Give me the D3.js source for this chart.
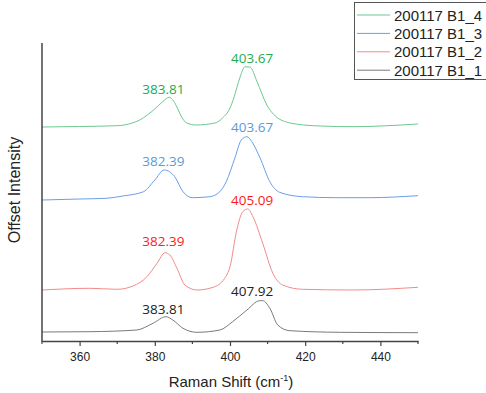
<!DOCTYPE html>
<html>
<head>
<meta charset="utf-8">
<script src="https://cdn.jsdelivr.net/npm/d3@7"></script>
<style>
  body { margin: 0; background: #fff; }
  text { font-family: "Liberation Sans", Arial, sans-serif; }
</style>
</head>
<body>
<div id="chart"></div>
<script>
// spectra (offset intensity in arbitrary units)
var seriesNames = ["200117 B1_4", "200117 B1_3", "200117 B1_2", "200117 B1_1"];

var shiftB1_4 = [350, 360, 370, 374, 376, 378, 380, 382, 383.8, 385, 386, 387, 388.5, 391, 396, 398, 400, 401, 402.6, 404, 405.3, 407.2, 409.8, 412.7, 415, 418, 424, 433, 442, 450];
var intB1_4   = [214, 214.5, 215.3, 218, 221, 226, 232, 239, 243.7, 240, 233, 225, 218, 216, 218, 223, 233, 243, 263, 274.3, 274, 259.3, 236, 223, 219, 216.7, 215, 214.3, 215.3, 217];

var shiftB1_3 = [350, 360, 367, 371.5, 377, 380, 382.5, 385.3, 387.5, 390, 394.6, 397.3, 399, 401.3, 403, 404.5, 405.8, 408, 410.6, 413.2, 419.3, 428.4, 437, 450];
var intB1_3   = [141, 142, 142.7, 145, 149.3, 161, 171, 164.3, 149.3, 143.3, 144.3, 149.3, 159.3, 183, 201, 204.3, 199.3, 183, 159.3, 148.7, 144.3, 143.3, 143.3, 145.3];

var shiftB1_2 = [350, 362.8, 370, 374.2, 377.9, 380.6, 382.7, 384, 385.9, 388, 391.2, 395.5, 398.6, 400, 401.8, 403.4, 404.7, 406.1, 408.7, 411.4, 414, 419.3, 432.6, 450];
var intB1_2   = [51, 52.7, 51.7, 55, 64.3, 77.7, 88.3, 86, 72.7, 56, 51, 53.7, 62.7, 74.3, 111, 129.3, 132, 124.3, 97.7, 67.7, 56, 51.7, 51, 53.7];

var shiftB1_1 = [350, 362.8, 375.2, 379.5, 383, 384.8, 387.5, 391.2, 397.3, 400.7, 404.5, 407.9, 408.7, 410.6, 412.7, 415.9, 429.2, 450];
var intB1_1   = [9, 9.3, 11, 17.7, 24.3, 21, 12.7, 8.7, 11, 19.3, 31, 40.3, 40.3, 32.7, 16, 10.3, 8.7, 8.3];

// peak annotations: text, anchor shift, anchor intensity
var peakTextB1_4 = ["383.81", "403.67"];
var peakTextB1_3 = ["382.39", "403.67"];
var peakTextB1_2 = ["382.39", "405.09"];
var peakTextB1_1 = ["383.81", "407.92"];
var peakShift = [382.3, 405.9];
var peakIntB1_4 = [247, 278];
var peakIntB1_3 = [175, 209];
var peakIntB1_2 = [95, 136];
var peakIntB1_1 = [27, 45];

var xTicks = [360, 380, 400, 420, 440];
var xMinorTicks = [350, 370, 390, 410, 430, 450];

var lineColors = ["#6cc890", "#6b9ee8", "#f48a8a", "#7a7a7a"];
var labelColors = ["#1aad53", "#5b9bd5", "#ff1a1a", "#222222"];

var width = 486;
var height = 393;

var svg = d3.select("#chart").
    append("svg").
    attr("width", width).
    attr("height", height);

var xScale = d3.scaleLinear().domain([350, 450]).range([42, 418]);
var yScale = d3.scaleLinear().domain([0, 298]).range([341, 43]);

var series = [
    { name: seriesNames[0], xs: shiftB1_4, ys: intB1_4, peaks: peakTextB1_4, peakY: peakIntB1_4 },
    { name: seriesNames[1], xs: shiftB1_3, ys: intB1_3, peaks: peakTextB1_3, peakY: peakIntB1_3 },
    { name: seriesNames[2], xs: shiftB1_2, ys: intB1_2, peaks: peakTextB1_2, peakY: peakIntB1_2 },
    { name: seriesNames[3], xs: shiftB1_1, ys: intB1_1, peaks: peakTextB1_1, peakY: peakIntB1_1 }
];

svg.append("clipPath").attr("id", "plot").
    append("rect").
    attr("x", xScale(350)).attr("y", yScale(298)).
    attr("width", xScale(450) - xScale(350)).
    attr("height", yScale(0) - yScale(298));

var line = d3.line().
    x(function (d) { return xScale(d[0]); }).
    y(function (d) { return yScale(d[1]); }).
    curve(d3.curveMonotoneX);

svg.append("g").attr("clip-path", "url(#plot)").
    selectAll("path").
    data(series).
    enter().
    append("path").
    attr("fill", "none").
    attr("stroke", function (d, i) { return lineColors[i]; }).
    attr("stroke-width", 1).
    attr("d", function (d) {
        return line(d.xs.map(function (v, i) { return [v, d.ys[i]]; }));
    });

// peak labels
series.forEach(function (s, si) {
    svg.append("g").selectAll("text").
        data(s.peaks).
        enter().
        append("text").
        attr("x", function (d, i) { return xScale(peakShift[i]); }).
        attr("y", function (d, i) { return yScale(s.peakY[i]); }).
        attr("text-anchor", "middle").
        style("font-family", "'Open Sans', sans-serif").
        style("font-size", "13.5px").
        attr("fill", labelColors[si]).
        text(function (d) { return d; });
});

// axes
var xAxis = d3.axisBottom(xScale).
    tickValues(xTicks).
    tickSize(5).
    tickSizeOuter(0).
    tickPadding(6);

var gx = svg.append("g").
    attr("transform", "translate(0," + yScale(0) + ")").
    call(xAxis);
gx.select(".domain").attr("stroke", "#444").attr("stroke-width", 1.5);
gx.selectAll(".tick line").attr("stroke", "#444").attr("stroke-width", 1.2);
gx.selectAll(".tick text").
    style("font-family", "'Liberation Sans', Arial, sans-serif").
    style("font-size", "12px").
    attr("fill", "#222");

svg.append("g").selectAll("line").
    data(xMinorTicks).
    enter().
    append("line").
    attr("x1", function (d) { return xScale(d); }).
    attr("x2", function (d) { return xScale(d); }).
    attr("y1", yScale(0)).
    attr("y2", yScale(0) + 3).
    attr("stroke", "#444").
    attr("stroke-width", 1.2);

svg.append("line").
    attr("x1", xScale(350)).attr("x2", xScale(350)).
    attr("y1", yScale(0) + 0.75).attr("y2", yScale(298)).
    attr("stroke", "#444").attr("stroke-width", 1.5);

// axis titles
var xTitle = svg.append("text").
    attr("x", 231).
    attr("y", 387).
    attr("text-anchor", "middle").
    style("font-size", "15px").
    attr("fill", "#222");
xTitle.append("tspan").text("Raman Shift (cm");
xTitle.append("tspan").attr("dy", -6).style("font-size", "9px").text("-1");
xTitle.append("tspan").attr("dy", 6).text(")");

svg.append("text").
    attr("transform", "translate(20,190) rotate(-90)").
    attr("text-anchor", "middle").
    style("font-size", "16px").
    attr("fill", "#222").
    text("Offset Intensity");

// legend
var legend = svg.append("g");
legend.append("rect").
    attr("x", 354.5).attr("y", 2.5).
    attr("width", 140).attr("height", 77).
    attr("fill", "#fff").
    attr("stroke", "#555").
    attr("stroke-width", 1);

var rows = legend.selectAll("g.row").
    data(seriesNames).
    enter().
    append("g").
    attr("class", "row").
    attr("transform", function (d, i) { return "translate(0," + (15 + i * 18.4) + ")"; });

rows.append("line").
    attr("x1", 357).attr("x2", 390).
    attr("y1", 0).attr("y2", 0).
    attr("stroke", function (d, i) { return lineColors[i]; }).
    attr("stroke-width", 1);

rows.append("text").
    attr("x", 394).
    attr("y", 5.5).
    style("font-size", "15px").
    attr("fill", "#222").
    text(function (d) { return d; });
</script>
</body>
</html>
